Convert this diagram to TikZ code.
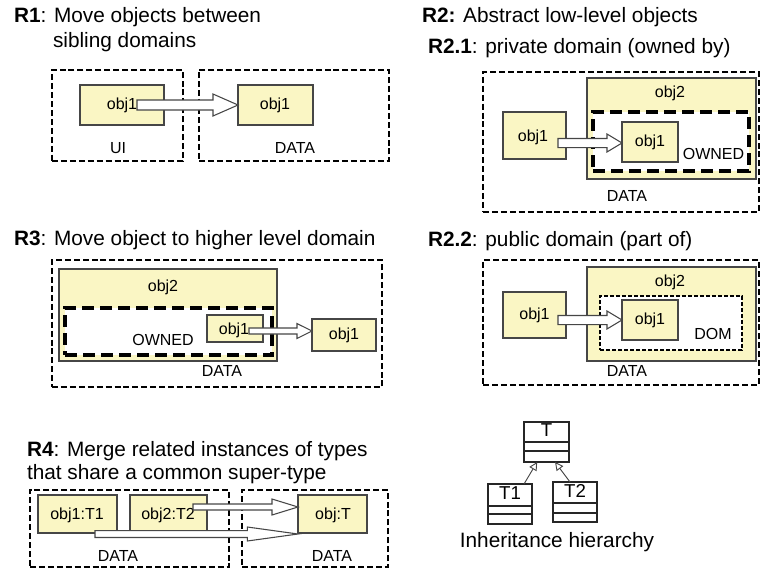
\documentclass[tikz,border=0pt]{standalone}
\usepackage{fontspec}
\setmainfont{Liberation Sans}
\usetikzlibrary{calc,fit,arrows.meta}

\definecolor{objfill}{RGB}{250,246,196}
\definecolor{edgegray}{RGB}{70,70,70}

\tikzset{
  every node/.style={inner sep=0pt, outer sep=0pt},
  title/.style={anchor=west, font=\fontsize{15.6}{18}\selectfont, text height=0.72em, text depth=0pt},
  lbl/.style={font=\fontsize{12}{14}\selectfont, text height=0.72em, text depth=0pt},
  umllbl/.style={font=\fontsize{14}{16}\selectfont, text height=0.72em, text depth=0pt},
  domainbox/.style={draw=black, line width=1pt, dash pattern=on 4.5pt off 2.2pt},
  ownedbox/.style={draw=black, fill=white, line width=3pt, dash pattern=on 9pt off 4.5pt},
  dombox/.style={draw=black, fill=white, line width=1.5pt, dash pattern=on 3pt off 1.5pt},
  objbox/.style={draw=edgegray, fill=objfill, line width=0.8pt},
  barrow/.style={draw=edgegray, fill=white, line width=0.8pt, line join=miter},
  umlbox/.style={draw=black!85, fill=white, line width=1.1pt},
  umlline/.style={draw=black!85, line width=1.1pt},
  inherit/.style={draw=edgegray, line width=0.7pt, -{Triangle[open, length=6.2pt, width=6.2pt]}},
}

% hollow block arrow running horizontally from #1 to the x of #2
% #3 shaft half height, #4 head half height, #5 head length
\newcommand{\blockarrow}[5]{%
  \draw[barrow] let \p1=(#1), \p2=(#2) in
    (\x1,\y1+#3) -- (\x2-#5,\y1+#3) -- (\x2-#5,\y1+#4) -- (\x2,\y1)
    -- (\x2-#5,\y1-#4) -- (\x2-#5,\y1-#3) -- (\x1,\y1-#3) -- cycle;}

\begin{document}
\begin{tikzpicture}[x=0.75pt, y=-0.75pt]
\useasboundingbox (0,0) rectangle (761,569);

% ---------------- R1 ----------------
\node[title] (r1a) at (14,18) {\textbf{R1}: Move objects between};
\node[title] (r1b) at (53,43) {sibling domains};
\node[domainbox, fit={(52,70)(183,161)}] (ui) {};
\node[domainbox, fit={(199,70)(389,161)}] (d1) {};
\node[objbox, fit={(80,85)(164,125)}] (o1a) {};
\node[objbox, fit={(238,85)(313,125)}] (o1b) {};
\node[lbl] (o1aL) at (122,105) {obj1};
\node[lbl] (o1bL) at (275,105) {obj1};
\node[lbl] (uiL) at (118,149) {UI};
\node[lbl] (d1L) at (295,149) {DATA};
\coordinate (a1s) at (137,105);
\blockarrow{a1s}{o1b.west}{3.75pt}{8.25pt}{18.75pt}

% ---------------- R2 / R2.1 ----------------
\node[title] (r2) at (422,18) {\textbf{R2:} Abstract low-level objects};
\node[title] (r21) at (428,49) {\textbf{R2.1}: private domain (owned by)};
\node[domainbox, fit={(483,72)(759,212)}] (d21) {};
\node[objbox, fit={(587,78)(756,179)}] (o21b) {};
\node[ownedbox, fit={(593,112)(749,171)}] (own21) {};
\node[objbox, fit={(503,112)(566,159)}] (o21a) {};
\node[objbox, fit={(622,122)(678,162)}] (o21c) {};
\node[lbl] (o21aL) at (533,137) {obj1};
\node[lbl] (o21bL) at (670,93) {obj2};
\node[lbl] (o21cL) at (650,142) {obj1};
\node[lbl] (own21L) at (713.5,155) {OWNED};
\node[lbl] (d21L) at (627,197) {DATA};
\coordinate (a21s) at (558,143);
\blockarrow{a21s}{o21c.west}{3.4pt}{6.75pt}{11.25pt}

% ---------------- R3 ----------------
\node[title] (r3) at (14,241) {\textbf{R3}: Move object to higher level domain};
\node[domainbox, fit={(52,260)(382,387)}] (d3) {};
\node[objbox, fit={(59,269)(277,361)}] (o3b) {};
\node[ownedbox, fit={(65,308)(272,355)}] (own3) {};
\node[objbox, fit={(207,315)(263,342)}] (o3a) {};
\node[objbox, fit={(312,319)(376,351)}] (o3c) {};
\node[lbl] (o3bL) at (163,287) {obj2};
\node[lbl] (own3L) at (163,341) {OWNED};
\node[lbl] (o3aL) at (234,330) {obj1};
\node[lbl] (o3cL) at (344,335) {obj1};
\node[lbl] (d3L) at (222,372) {DATA};
\coordinate (a3s) at (249,331);
\blockarrow{a3s}{o3c.west}{2.25pt}{5.6pt}{11.25pt}

% ---------------- R2.2 ----------------
\node[title] (r22) at (428,242) {\textbf{R2.2}: public domain (part of)};
\node[domainbox, fit={(483,260)(759,385)}] (d22) {};
\node[objbox, fit={(587,267)(756,361)}] (o22b) {};
\node[dombox, fit={(600,296)(742,350)}] (dom22) {};
\node[objbox, fit={(503,292)(566,338)}] (o22a) {};
\node[objbox, fit={(622,300)(678,340)}] (o22c) {};
\node[lbl] (o22aL) at (534.5,315) {obj1};
\node[lbl] (o22bL) at (670,282) {obj2};
\node[lbl] (o22cL) at (650,320) {obj1};
\node[lbl] (dom22L) at (713,335) {DOM};
\node[lbl] (d22L) at (627,372) {DATA};
\coordinate (a22s) at (558,320);
\blockarrow{a22s}{o22c.west}{3.4pt}{6.75pt}{11.25pt}

% ---------------- R4 ----------------
\node[title] (r4a) at (27,452) {\textbf{R4}: Merge related instances of types};
\node[title] (r4b) at (27,475) {that share a common super-type};
\node[domainbox, fit={(30,490)(229,567)}] (d4a) {};
\node[domainbox, fit={(242,490)(388,567)}] (d4b) {};
\node[objbox, fit={(38,495)(117,533)}] (t1o) {};
\node[objbox, fit={(130,495)(207,533)}] (t2o) {};
\node[objbox, fit={(298,495)(367,533)}] (tto) {};
\node[lbl] (t1oL) at (77,515) {obj1:T1};
\node[lbl] (t2oL) at (168,515) {obj2:T2};
\node[lbl] (ttoL) at (333,515) {obj:T};
\node[lbl] (d4aL) at (118,557) {DATA};
\node[lbl] (d4bL) at (332,557) {DATA};
\coordinate (a4s) at (193,507);
\coordinate (a4t) at (95,534);
\blockarrow{a4s}{tto.west}{2.25pt}{6pt}{19.5pt}
\blockarrow{a4t}{tto.west}{2.6pt}{5.25pt}{38pt}

% ---------------- inheritance hierarchy ----------------
\node[umlbox, fit={(524,422)(569,462)}] (T) {};
\draw[umlline] (524,442) -- (569,442);
\draw[umlline] (524,451) -- (569,451);
\node[umlbox, fit={(488,484)(532,524)}] (T1) {};
\draw[umlline] (488,506) -- (532,506);
\draw[umlline] (488,514) -- (532,514);
\node[umlbox, fit={(553,482)(597,522)}] (T2) {};
\draw[umlline] (553,503) -- (597,503);
\draw[umlline] (553,513) -- (597,513);
\node[umllbl] (TL) at (546.5,432) {T};
\node[umllbl] (T1L) at (510,495) {T1};
\node[umllbl] (T2L) at (575,492.5) {T2};
\draw[inherit] ([xshift=10.5pt]T1.north) -- ([xshift=-7pt]T.south);
\draw[inherit] ([xshift=-3.75pt]T2.north) -- ([xshift=6.4pt]T.south);
\node[title, anchor=center] (inhL) at (557,543) {Inheritance hierarchy};

\end{tikzpicture}
\end{document}
